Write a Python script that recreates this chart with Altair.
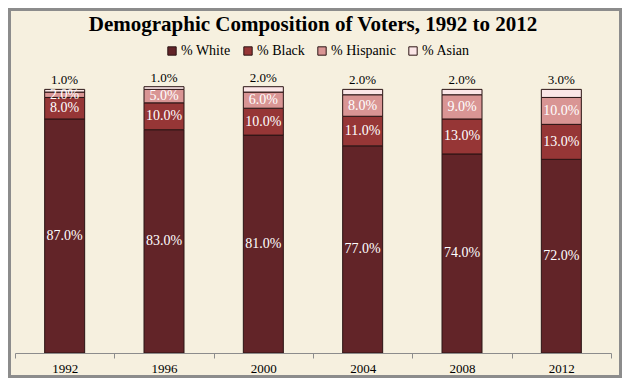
import altair as alt
import pandas as pd

years = ["1992", "1996", "2000", "2004", "2008", "2012"]
white = [87, 83, 81, 77, 74, 72]
black = [8, 10, 10, 11, 13, 13]
hispanic = [2, 5, 6, 8, 9, 10]
asian = [1, 1, 2, 2, 2, 3]
groups = ["% White", "% Black", "% Hispanic", "% Asian"]
colors = ["#622428", "#963636", "#D99594", "#FBE6E7"]

rows = []
for gi, (g, vals) in enumerate(zip(groups, [white, black, hispanic, asian])):
    for yr, v in zip(years, vals):
        rows.append({"year": yr, "group": g, "ord": gi, "value": v})
df = pd.DataFrame(rows)

W, H = 596, 269
PL, PT, PR, PB = 7, 76, 11, 25
FONT = "Liberation Serif"

xenc = alt.X("year:N", title=None, sort=years,
             scale=alt.Scale(paddingInner=0, paddingOuter=0),
             axis=alt.Axis(labelAngle=0, tickBand="extent", domainColor="#8C8C8C",
                           tickColor="#8C8C8C", tickSize=5, labelFont=FONT,
                           labelFontSize=13, labelColor="black", labelPadding=4,
                           zindex=1))
yscale = alt.Scale(domain=[0, 100])

base = alt.Chart(df).transform_stack(
    stack="value", groupby=["year"], as_=["v0", "v1"], sort=[alt.SortField("ord")]
).transform_calculate(
    mid="(datum.v0 + datum.v1) / 2",
    label="format(datum.value, '.1f') + '%'"
)

bars = base.mark_bar(size=40, stroke="#2B1414", strokeWidth=1).encode(
    x=xenc,
    y=alt.Y("v0:Q", scale=yscale, axis=None),
    y2="v1:Q",
    color=alt.Color("group:N", scale=alt.Scale(domain=groups, range=colors),
                    legend=alt.Legend(title=None, orient="none", direction="horizontal",
                                      legendX=150, legendY=-40, symbolType="square",
                                      symbolSize=70, symbolStrokeColor="#2B1414",
                                      symbolStrokeWidth=1, labelFont=FONT,
                                      labelFontSize=14, labelColor="black",
                                      labelOffset=2, columnPadding=10)),
    order=alt.Order("ord:Q"),
)

inner = base.transform_filter("datum.ord < 3").mark_text(
    color="white", font=FONT, fontSize=14
).encode(x=xenc, y=alt.Y("mid:Q", scale=yscale, axis=None), text="label:N")

top = base.transform_filter("datum.ord == 3").mark_text(
    color="black", font=FONT, fontSize=13, baseline="bottom", dy=-2
).encode(x=xenc, y=alt.Y("v1:Q", scale=yscale, axis=None), text="label:N")

bg = alt.Chart(alt.Data(values=[{}])).mark_rect(color="#F6F0DF").encode(
    x=alt.value(-PL + 3), x2=alt.value(W + PR - 3),
    y=alt.value(-PT + 3), y2=alt.value(H + PB - 3),
)

chart = alt.layer(bg, bars, inner, top).properties(
    width=W, height=H,
    autosize=alt.AutoSizeParams(type="none"),
    padding={"left": PL, "top": PT, "right": PR, "bottom": PB},
    background="#8C8C8C",
    title=alt.Title("Demographic Composition of Voters, 1992 to 2012", font=FONT,
                    fontSize=21, fontWeight="bold", color="black", anchor="middle",
                    offset=0, dy=24),
).configure_view(stroke=None)

chart.save("out.html", embed_options={"renderer": "svg", "actions": False})
